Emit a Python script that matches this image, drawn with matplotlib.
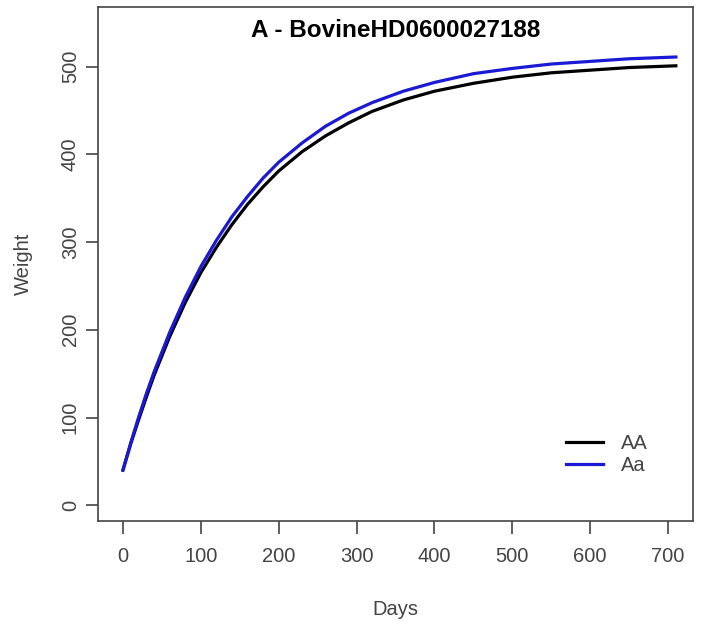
import matplotlib.pyplot as plt

# growth curves
days = [0, 10, 20, 30, 40, 60, 80, 100, 120, 140, 160, 180, 200, 230, 260,
        290, 320, 360, 400, 450, 500, 550, 600, 650, 710]
weight_AA = [40, 70, 97, 123, 148, 192, 231, 265, 294, 320, 343, 363, 381, 403, 421,
             436, 449, 462, 472, 481, 488, 493, 496, 499, 501]
weight_Aa = [40, 71, 100, 127, 152, 197, 237, 272, 302, 329, 352, 373, 391, 413, 432,
             447, 459, 472, 482, 492, 498, 503, 506, 509, 511]

title = "A - BovineHD0600027188"
x_ticks = [0, 100, 200, 300, 400, 500, 600, 700]
y_ticks = [0, 100, 200, 300, 400, 500]

plt.rcParams['font.family'] = ['Liberation Sans', 'DejaVu Sans']
grey = '#444444'

fig = plt.figure(figsize=(7.06, 6.26), dpi=100)
ax = fig.add_axes([0.1388, 0.1677, 0.8428, 0.8211])

ax.plot(days, weight_AA, color='black', lw=2.3, label='AA')
ax.plot(days, weight_Aa, color='#1a1ad6', lw=2.3, label='Aa')

ax.set_xlim(-32, 732)
ax.set_ylim(-18, 568)
ax.set_xticks(x_ticks)
ax.set_yticks(y_ticks)
ax.set_yticklabels([str(v) for v in y_ticks], rotation=90, va='center')
ax.tick_params(colors=grey, labelcolor='#444444', labelsize=14.5, length=9, width=1.2)
ax.tick_params(axis='x', pad=10)
ax.tick_params(axis='y', pad=4)

for s in ax.spines.values():
    s.set_color(grey)
    s.set_linewidth(1.2)

ax.set_title(title, fontsize=17.5, fontweight='bold', y=0.925)
ax.set_xlabel("Days", fontsize=14.5, color='#444444', labelpad=24)
ax.set_ylabel("Weight", fontsize=14.5, color='#444444', labelpad=20)

leg = ax.legend(loc='lower right', bbox_to_anchor=(0.955, 0.055), frameon=False,
                fontsize=14.5, handlelength=1.85, handletextpad=0.9, labelspacing=0.15)
for t in leg.get_texts():
    t.set_color('#444444')

fig.savefig('out.png', dpi=100)
